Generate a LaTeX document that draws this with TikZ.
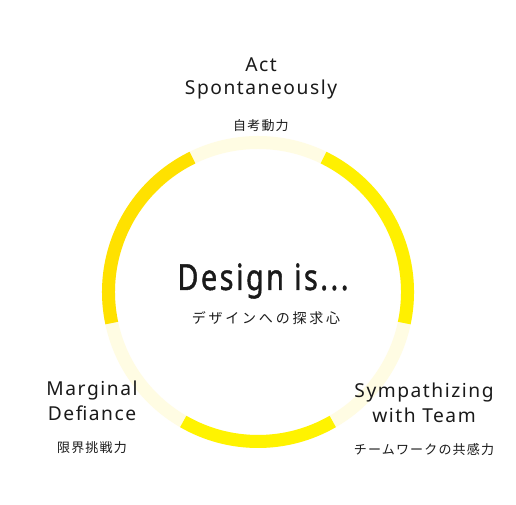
\documentclass[tikz,border=0pt]{standalone}
\usepackage{fontspec}
\setmainfont{Noto Sans}
\newfontfamily\labelfont[LetterSpace=8]{Noto Sans}
\newfontfamily\headfont[FakeStretch=0.8,FakeBold=1.2,LetterSpace=7]{Noto Sans}
\newfontfamily\jpfont[LetterSpace=9]{Noto Sans CJK JP}
\newfontfamily\jpsubfont[LetterSpace=20]{Noto Sans CJK JP}
\definecolor{ringpale}{HTML}{FFFCE3}
\definecolor{ringgold}{HTML}{FFE100}
\definecolor{ringyellow}{HTML}{FFF000}
\definecolor{ringbottom}{HTML}{FFF300}
\definecolor{ink}{HTML}{1A1A1A}
\tikzset{
  ringseg/.style={line width=13pt},
  lbl/.style={anchor=base, inner sep=0pt, text=ink, font=\labelfont\fontsize{19.2}{22}\selectfont},
  jplbl/.style={inner sep=0pt, text=ink, font=\jpfont\fontsize{13}{15}\selectfont},
  headlbl/.style={anchor=base, inner sep=0pt, text=ink, font=\headfont\fontsize{36}{40}\selectfont},
  jpsub/.style={inner sep=0pt, text=ink, font=\jpsubfont\fontsize{14}{16}\selectfont},
}
\begin{document}
\begin{tikzpicture}[x=1pt,y=1pt]
\useasboundingbox (0,0) rectangle (516,505);
\fill[white] (0,0) rectangle (516,505);
\coordinate (c) at (258,213);
% ring
\draw[ringseg, ringpale] (c) circle[radius=149.5];
\draw[ringseg, ringgold] ([shift={(116:149.5)}]c) arc[start angle=116, end angle=192, radius=149.5];
\draw[ringseg, ringyellow] ([shift={(-12:149.5)}]c) arc[start angle=-12, end angle=64, radius=149.5];
\draw[ringseg, ringbottom] ([shift={(240:149.5)}]c) arc[start angle=240, end angle=300, radius=149.5];
% centre
\node[headlbl] (head) at (263,215) {Design is...};
\node[jpsub] (headjp) at (266,187) {デザインへの探求心};
% top
\node[lbl] (act1) at (261,433) {Act};
\node[lbl] (act2) at (261,410) {Spontaneously};
\node[jplbl] (actjp) at (261,379) {自考動力};
% left
\node[lbl] (mar1) at (92,109) {Marginal};
\node[lbl] (mar2) at (92,84) {Defiance};
\node[jplbl] (marjp) at (92,57) {限界挑戦力};
% right
\node[lbl] (sym1) at (424,107) {Sympathizing};
\node[lbl] (sym2) at (424,82) {with Team};
\node[jplbl] (symjp) at (424,55) {チームワークの共感力};
\end{tikzpicture}
\end{document}
